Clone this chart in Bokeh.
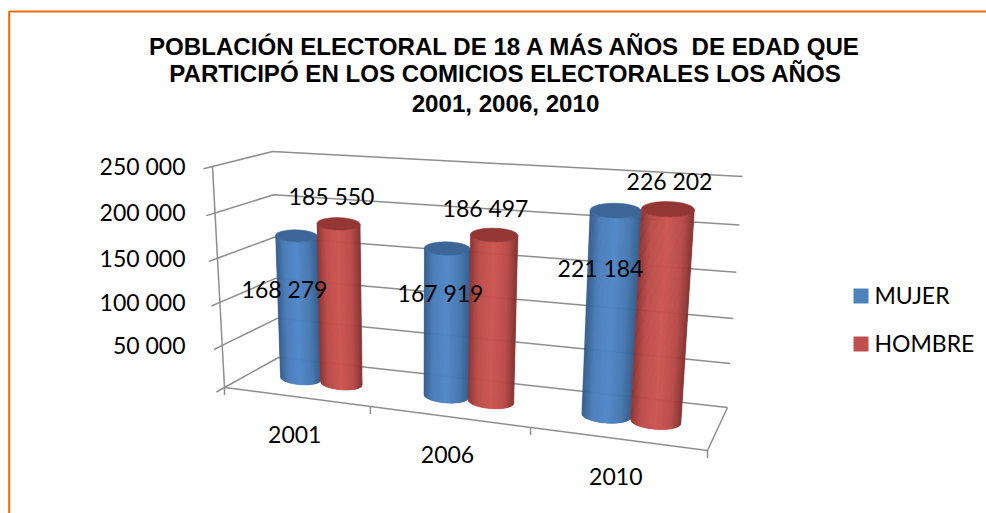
import math
from bokeh.embed import file_html
from bokeh.resources import INLINE
from bokeh.plotting import figure
from bokeh.core.properties import value

# ---- data ----
YEARS = ["2001", "2006", "2010"]
MUJER = [168279, 167919, 221184]
HOMBRE = [185550, 186497, 226202]
TICKS = [0, 50000, 100000, 150000, 200000, 250000]
TICK_LABELS = ["", "50 000", "100 000", "150 000", "200 000", "250 000"]
TITLE_LINES = ["POBLACIÓN ELECTORAL DE 18 A MÁS AÑOS\u00a0 DE EDAD QUE",
               "PARTICIPÓ EN LOS COMICIOS ELECTORALES LOS AÑOS",
               "2001, 2006, 2010"]
SERIES = ["MUJER", "HOMBRE"]

# ---- layout / projection of the 3-D box (page pixels) ----
VMAX = 250000
FBL, FBR, BBL, BBR = (224, 387), (707, 450), (278, 357), (727, 407)
FTL, FTR, BTL, BTR = (212, 166), (726, 202), (272, 151), (742, 176)


def lerp(a, b, t):
    return (a[0] + (b[0] - a[0]) * t, a[1] + (b[1] - a[1]) * t)


def warp_u(c):
    u = c / len(YEARS)
    return 0.865 * u / (1 - 0.135 * u)


def warp_v(v):
    w = v / VMAX
    return 0.94 * w / (1 - 0.06 * w)


def proj(c, d, v):
    """category position c (0..3), depth d (0 front..1 back), value v"""
    t, w = warp_u(c), warp_v(v)
    bottom = lerp(lerp(FBL, FBR, t), lerp(BBL, BBR, t), d)
    top = lerp(lerp(FTL, FTR, t), lerp(BTL, BTR, t), d)
    return lerp(bottom, top, w)


def mix(stops, s):
    for (s0, c0), (s1, c1) in zip(stops, stops[1:]):
        if s <= s1:
            k = (s - s0) / (s1 - s0)
            rgb = [round(int(c0[i:i + 2], 16) * (1 - k) + int(c1[i:i + 2], 16) * k) for i in (1, 3, 5)]
            return "#%02x%02x%02x" % tuple(rgb)
    return stops[-1][1]


SHADE = {
    "MUJER": [(-1, "#335a8a"), (-0.6, "#4a7cb8"), (0, "#5088ca"), (0.6, "#4676ae"), (1, "#325c8c")],
    "HOMBRE": [(-1, "#8a3331"), (-0.6, "#bb4c49"), (0, "#cd5552"), (0.6, "#b84a47"), (1, "#843230")],
}
TOP = {"MUJER": "#3c6698", "HOMBRE": "#943634"}
KEY = {"MUJER": "#4f81bd", "HOMBRE": "#c0504d"}
GRID = "#8e8e8e"
FONT = "Lato"
LABEL_SIZE = "23px"

p = figure(width=986, height=513, x_range=(0, 986), y_range=(513, 0),
           output_backend="svg", toolbar_location=None, min_border=0,
           x_axis_type="linear", outline_line_color=None)
p.axis.visible = False
p.grid.visible = False

# frame
p.line([8.7, 8.7, 986], [513, 11, 11], line_color="#e46c0a", line_width=2)

# walls and floor
for v in TICKS:
    fl, bl, br = proj(0, 0, v), proj(0, 1, v), proj(3, 1, v)
    p.line([fl[0], bl[0], br[0]], [fl[1], bl[1], br[1]], line_color=GRID, line_width=1.5)
    k = 0.15
    p.line([fl[0], fl[0] + (fl[0] - bl[0]) * k], [fl[1], fl[1] + (fl[1] - bl[1]) * k],
           line_color=GRID, line_width=1.5)
corners = [proj(0, 0, 0), proj(3, 0, 0), proj(3, 1, 0)]
p.line([a[0] for a in corners], [a[1] for a in corners], line_color=GRID, line_width=1.5)
left_axis = [proj(0, 0, TICKS[0]), proj(0, 0, TICKS[-1])]
p.line([a[0] for a in left_axis], [a[1] for a in left_axis], line_color=GRID, line_width=1.5)
for c in range(len(YEARS) + 1):
    a = proj(c, 0, 0)
    p.line([a[0], a[0]], [a[1], a[1] + 7.5], line_color=GRID, line_width=1.5)


# cylinders
def cylinder(c, val, name):
    r = 0.145
    cb, ct = proj(c, 0.5, 0), proj(c, 0.5, val)
    lb, rb = proj(c - r, 0.5, 0), proj(c + r, 0.5, 0)
    lt, rt = proj(c - r, 0.5, val), proj(c + r, 0.5, val)
    hb = ((rb[0] - lb[0]) / 2, (rb[1] - lb[1]) / 2 * 0.6)
    ht = ((rt[0] - lt[0]) / 2, (rt[1] - lt[1]) / 2 * 0.3)
    ryb, ryt = hb[0] * 0.31, ht[0] * 0.29

    def pt(center, h, ry, s):
        return (center[0] + s * h[0], center[1] + s * h[1] + math.sqrt(max(0, 1 - s * s)) * ry)

    n = 60
    xs, ys, cols = [], [], []
    for i in range(n):
        s0, s1 = -1 + 2 * i / n, -1 + 2 * (i + 1) / n
        q = [pt(ct, ht, ryt, s0), pt(ct, ht, ryt, s1), pt(cb, hb, ryb, s1), pt(cb, hb, ryb, s0)]
        xs.append([a[0] for a in q])
        ys.append([a[1] for a in q])
        cols.append(mix(SHADE[name], (s0 + s1) / 2))
    p.patches(xs, ys, fill_color=cols, line_color=cols, line_width=0.6)
    cap = [(ct[0] + math.cos(a) * ht[0], ct[1] + math.cos(a) * ht[1] + math.sin(a) * ryt)
           for a in [2 * math.pi * i / 72 for i in range(72)]]
    p.patch([a[0] for a in cap], [a[1] for a in cap], fill_color=TOP[name], line_color=TOP[name], line_width=0.5)


for i in range(len(YEARS)):
    cylinder(i + 0.36, MUJER[i], "MUJER")
    cylinder(i + 0.65, HOMBRE[i], "HOMBRE")


def label(x, y, txt, size=LABEL_SIZE, align="center", font=FONT, style="normal", color="#000000"):
    p.text([x], [y], text=[txt], text_font=value(font), text_font_size=size, text_align=align,
           text_baseline="middle", text_font_style=style, text_color=color)


def fmt(n):
    return f"{n:,}".replace(",", " ")


# data labels: free placement, as in the reference
LABEL_AT = [[(284, 288), (440, 292), (600, 267)], [(331, 195), (485, 207), (669, 180)]]
for s, vals in enumerate([MUJER, HOMBRE]):
    for i, n in enumerate(vals):
        label(LABEL_AT[s][i][0], LABEL_AT[s][i][1], fmt(n))

# axis labels
for v, txt in zip(TICKS, TICK_LABELS):
    if txt:
        a = proj(0, 0, v)
        label(185, a[1] - 0.5, txt, align="right")
for i, y in enumerate(YEARS):
    a = proj(i + 0.5, 0, 0)
    label(a[0] - 1, a[1] + 37.5, y)

# title
for y, txt in zip([46, 72.5, 102.5], TITLE_LINES):
    label(505, y, txt, size="24.1px", font="Liberation Sans", style="bold")

# legend
for y, name in zip([295.5, 343.5], SERIES):
    p.quad(left=[853], right=[868], top=[y - 7.5], bottom=[y + 7.5], fill_color=KEY[name], line_color=None)
    label(874, y - 1, name, size="23px", align="left")

open("out.html", "w").write(file_html(p, INLINE))
